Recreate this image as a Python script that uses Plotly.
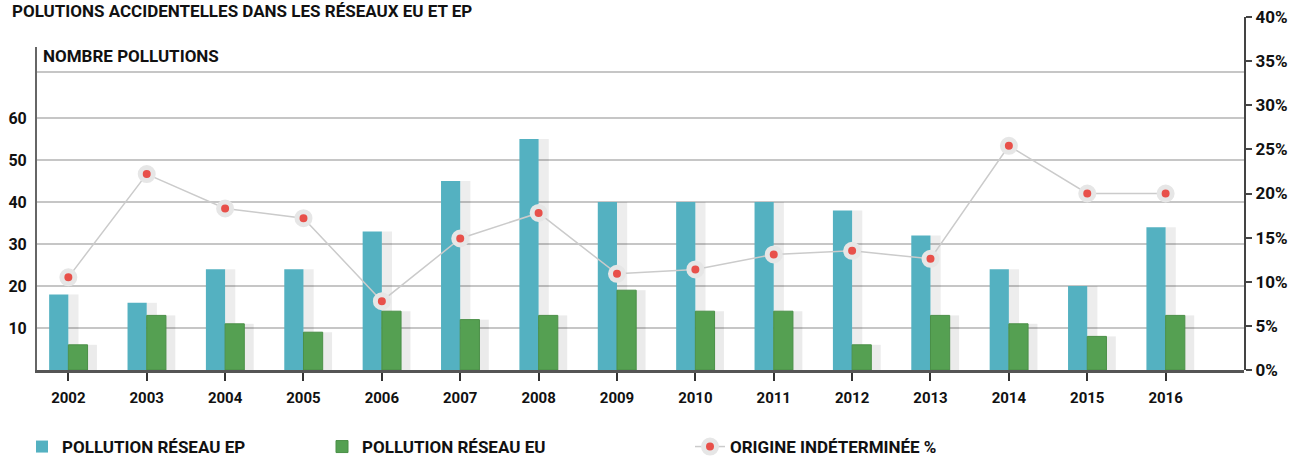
import plotly.graph_objects as go

years = list(range(2002, 2017))
reseau_ep = [18, 16, 24, 24, 33, 45, 55, 40, 40, 40, 38, 32, 24, 20, 34]
reseau_eu = [6, 13, 11, 9, 14, 12, 13, 19, 14, 14, 6, 13, 11, 8, 13]
origine_pct = [10.5, 22.2, 18.3, 17.2, 7.8, 14.9, 17.8, 10.9, 11.4, 13.1, 13.5, 12.6, 25.4, 20.0, 20.0]

pct_ticks = [0, 5, 10, 15, 20, 25, 30, 35, 40]
pct_labels = ["0%", "5%", "10%", "15%", "20%", "25%", "30%", "35%", "40%"]
count_ticks = [10, 20, 30, 40, 50, 60, 71]
count_labels = ["10", "20", "30", "40", "50", "60", ""]

BLUE = "#54b1c1"
GREEN = "#55a052"
FONT = "Roboto"
BW = 0.245

fig = go.Figure()

# soft shadows to the right of each bar
fig.add_trace(go.Bar(x=years, y=reseau_ep, offset=0, width=0.13,
                     marker=dict(color="rgba(0,0,0,0.07)", line_width=0),
                     showlegend=False, hoverinfo="skip"))
fig.add_trace(go.Bar(x=years, y=reseau_eu, offset=BW, width=0.12,
                     marker=dict(color="rgba(0,0,0,0.08)", line_width=0),
                     showlegend=False, hoverinfo="skip"))

fig.add_trace(go.Bar(x=years, y=reseau_ep, offset=-BW, width=BW,
                     name="POLLUTION RÉSEAU EP", marker=dict(color=BLUE, line_width=0),
                     legend="legend"))
fig.add_trace(go.Bar(x=years, y=reseau_eu, offset=0, width=BW,
                     name="POLLUTION RÉSEAU EU",
                     marker=dict(color=GREEN, line=dict(color="#4a8f47", width=1)),
                     legend="legend2"))

fig.add_trace(go.Scatter(x=years, y=origine_pct, yaxis="y2", mode="lines+markers",
                         name="ORIGINE INDÉTERMINÉE %",
                         line=dict(color="#cbcbcb", width=1.5),
                         marker=dict(size=13, color="#e8504a",
                                     line=dict(color="#e6e6e6", width=5)),
                         legend="legend3"))

H = 353.0  # plot area height in px


def py(pix):
    return (370 - pix) / H


def px_(pix):
    return (pix - 37) / 1207.0


legend_font = dict(family=FONT, size=17, color="#111", weight=700)
leg_y = (457 - 447) / 457.0


def legend_at(left):
    return dict(x=left / 1297.0, y=leg_y, xref="container", yref="container",
                xanchor="left", yanchor="middle", orientation="h",
                font=legend_font, bgcolor="rgba(0,0,0,0)")


fig.update_layout(
    width=1297, height=457,
    margin=dict(l=37, r=53, t=17, b=87),
    paper_bgcolor="white", plot_bgcolor="rgba(0,0,0,0)",
    barmode="overlay",
    font=dict(family=FONT, color="#111"),
    xaxis=dict(type="linear", range=[2001.6, 2017], tickvals=years,
               ticks="outside", ticklen=8, tickwidth=2, tickcolor="#333",
               showline=True, linecolor="#555", linewidth=2.5,
               showgrid=False, zeroline=False, ticklabelstandoff=4,
               automargin=False,
               tickfont=dict(family=FONT, size=15, color="#111", weight=700)),
    yaxis=dict(domain=[0, py(47)], range=[0, 323 / 4.2],
               tickvals=count_ticks, ticktext=count_labels,
               showgrid=True, gridcolor="#c6c6c6", gridwidth=1.5,
               showline=True, linecolor="#666", linewidth=2,
               zeroline=False, ticks="outside", ticklen=5,
               tickcolor="rgba(0,0,0,0)", automargin=False,
               tickfont=dict(family=FONT, size=16, color="#111", weight=700)),
    yaxis2=dict(domain=[0, 1], range=[0, 40], anchor="x", side="right",
                tickvals=pct_ticks, ticktext=pct_labels,
                showgrid=False, zeroline=False,
                showline=True, linecolor="#444", linewidth=2,
                ticks="outside", ticklen=6, tickwidth=2, tickcolor="#444",
                automargin=False,
                tickfont=dict(family=FONT, size=17, color="#111", weight=700)),
    legend=legend_at(22),
    legend2=legend_at(322),
    legend3=legend_at(690),
    annotations=[
        dict(text="POLUTIONS ACCIDENTELLES DANS LES RÉSEAUX EU ET EP",
             xref="paper", yref="paper", x=px_(10), y=py(11),
             xanchor="left", yanchor="middle", showarrow=False,
             font=dict(family=FONT, size=17, color="#111", weight=700)),
        dict(text="NOMBRE POLLUTIONS",
             xref="paper", yref="paper", x=px_(41), y=py(56),
             xanchor="left", yanchor="middle", showarrow=False,
             font=dict(family=FONT, size=17, color="#111", weight=700)),
    ],
)

fig.write_html("out.html", config={"displayModeBar": False},
               post_script="document.body.style.margin='0';")
